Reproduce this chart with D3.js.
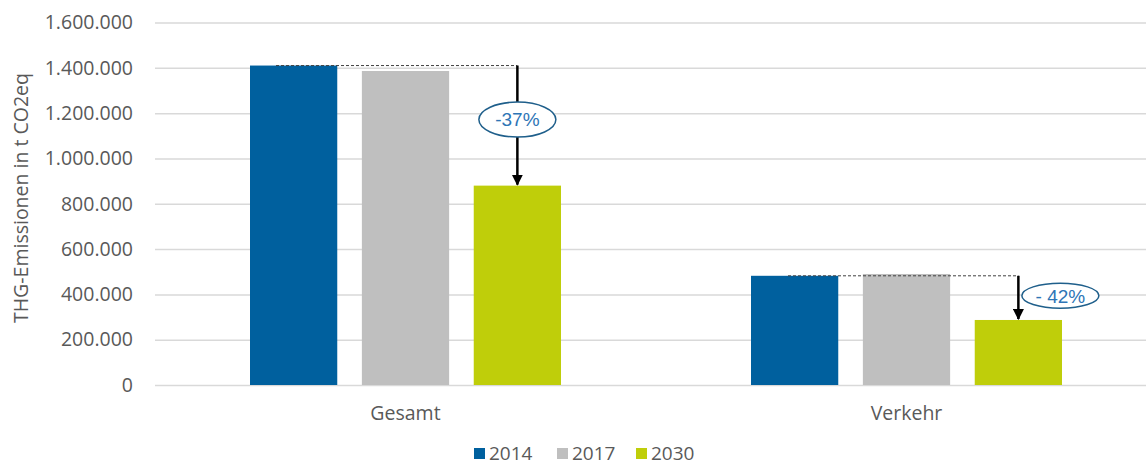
<!DOCTYPE html>
<html>
<head>
<meta charset="utf-8">
<script src="https://cdn.jsdelivr.net/npm/d3@7/dist/d3.min.js"></script>
<style>
  body { margin: 0; background: #fff; }
  text { font-family: "Open Sans", "DejaVu Sans", sans-serif; }
</style>
</head>
<body>
<div id="chart"></div>
<script>
// data
var categories = ["Gesamt", "Verkehr"]
var years = ["2014", "2017", "2030"]
var values2014 = [1410000, 482000]
var values2017 = [1386000, 490000]
var values2030 = [880000, 287000]
var changeLabels = ["-37%", "- 42%"]
var yTicks = [0, 200000, 400000, 600000, 800000, 1000000, 1200000, 1400000, 1600000]

var colors = { "2014": "#00609e", "2017": "#bfbfbf", "2030": "#bfce0a" }
var series = { "2014": values2014, "2017": values2017, "2030": values2030 }

const width = 1146, height = 466
const svg = d3.select('#chart').append('svg').attr('width', width).attr('height', height)

const x0 = d3.scaleBand().domain(categories).range([155, 1157]).padding(0)
const x1 = d3.scaleBand().domain(years).range([95, 406]).paddingInner(0.22).paddingOuter(0)
const y = d3.scaleLinear().domain([0, 1600000]).range([385, 22.5])

const fmt = d3.formatLocale({ decimal: ",", thousands: ".", grouping: [3], currency: ["", "€"] }).format(",")

// grid + y axis
const axisY = d3.axisLeft(y).tickValues(yTicks).tickFormat(fmt).tickSize(-(width - 155)).tickPadding(22)
const gy = svg.append('g').attr('class', 'y-axis').attr('transform', 'translate(155,0)').call(axisY)
gy.select('.domain').remove()
gy.selectAll('line').attr('stroke', '#d9d9d9').attr('stroke-width', 1.5)
gy.selectAll('text').attr('fill', '#595959').style('font-size', '19.5px')

svg.append('text')
  .attr('transform', 'translate(28,' + 198 + ') rotate(-90)')
  .attr('text-anchor', 'middle')
  .attr('fill', '#595959')
  .style('font-size', '19.5px')
  .text('THG-Emissionen in t CO2eq')

// bars
const groups = svg.selectAll('.group').data(categories).enter().append('g')
  .attr('class', 'group')
  .attr('transform', (d) => { return 'translate(' + x0(d) + ',0)' })

groups.selectAll('rect')
  .data((d, i) => { return years.map((yr) => { return { year: yr, value: series[yr][i] } }) })
  .enter().append('rect')
  .attr('x', (d) => { return x1(d.year) })
  .attr('width', x1.bandwidth())
  .attr('y', (d) => { return y(d.value) })
  .attr('height', (d) => { return y(0) - y(d.value) })
  .attr('fill', (d) => { return colors[d.year] })

// category labels
svg.selectAll('.cat-label').data(categories).enter().append('text')
  .attr('class', 'cat-label')
  .attr('x', (d) => { return x0(d) + (x1('2014') + x1('2030') + x1.bandwidth()) / 2 })
  .attr('y', 420)
  .attr('text-anchor', 'middle')
  .attr('fill', '#595959')
  .style('font-size', '19.5px')
  .text((d) => { return d })

// arrowhead
svg.append('defs').append('marker')
  .attr('id', 'arrow').attr('viewBox', '0 0 10 10').attr('refX', 9).attr('refY', 5)
  .attr('markerWidth', 4.5).attr('markerHeight', 4.5).attr('orient', 'auto')
  .append('path').attr('d', 'M0,0 L10,5 L0,10 z').attr('fill', '#000')

// change annotations
const labelOffsets = [{ dx: 0, dy: 0.45 }, { dx: 42, dy: 0.45 }]
categories.forEach((c, i) => {
  const xStart = x0(c) + x1('2014') + 26 + i * 11
  const xArrow = x0(c) + x1('2030') + x1.bandwidth() / 2
  const yTop = y(values2014[i])
  const yBottom = y(values2030[i])
  svg.append('line')
    .attr('x1', xStart).attr('x2', xArrow).attr('y1', yTop).attr('y2', yTop)
    .attr('stroke', '#404040').attr('stroke-width', 1).attr('stroke-dasharray', '3,2')
  svg.append('line')
    .attr('x1', xArrow).attr('x2', xArrow).attr('y1', yTop).attr('y2', yBottom - 1)
    .attr('stroke', '#000').attr('stroke-width', 2.5).attr('marker-end', 'url(#arrow)')
  const cx = xArrow + labelOffsets[i].dx
  const cy = yTop + (yBottom - yTop) * labelOffsets[i].dy
  svg.append('ellipse')
    .attr('cx', cx).attr('cy', cy).attr('rx', 38.5).attr('ry', i == 0 ? 17.5 : 12.5)
    .attr('fill', '#fff').attr('stroke', '#1f5f8b').attr('stroke-width', 1.5)
  svg.append('text')
    .attr('x', cx).attr('y', cy).attr('dy', '0.36em')
    .attr('text-anchor', 'middle')
    .attr('fill', '#2e75b6')
    .style('font-family', '"Liberation Sans", Arial, sans-serif')
    .style('font-size', '19px')
    .text(changeLabels[i])
})

// legend
const legendX = [474, 557, 636]
const legend = svg.selectAll('.legend').data(years).enter().append('g')
  .attr('class', 'legend')
  .attr('transform', (d, i) => { return 'translate(' + legendX[i] + ',448)' })
legend.append('rect').attr('width', 11).attr('height', 11).attr('fill', (d) => { return colors[d] })
legend.append('text').attr('x', 15).attr('y', 12)
  .attr('fill', '#595959').style('font-size', '19px')
  .text((d) => { return d })
</script>
</body>
</html>
